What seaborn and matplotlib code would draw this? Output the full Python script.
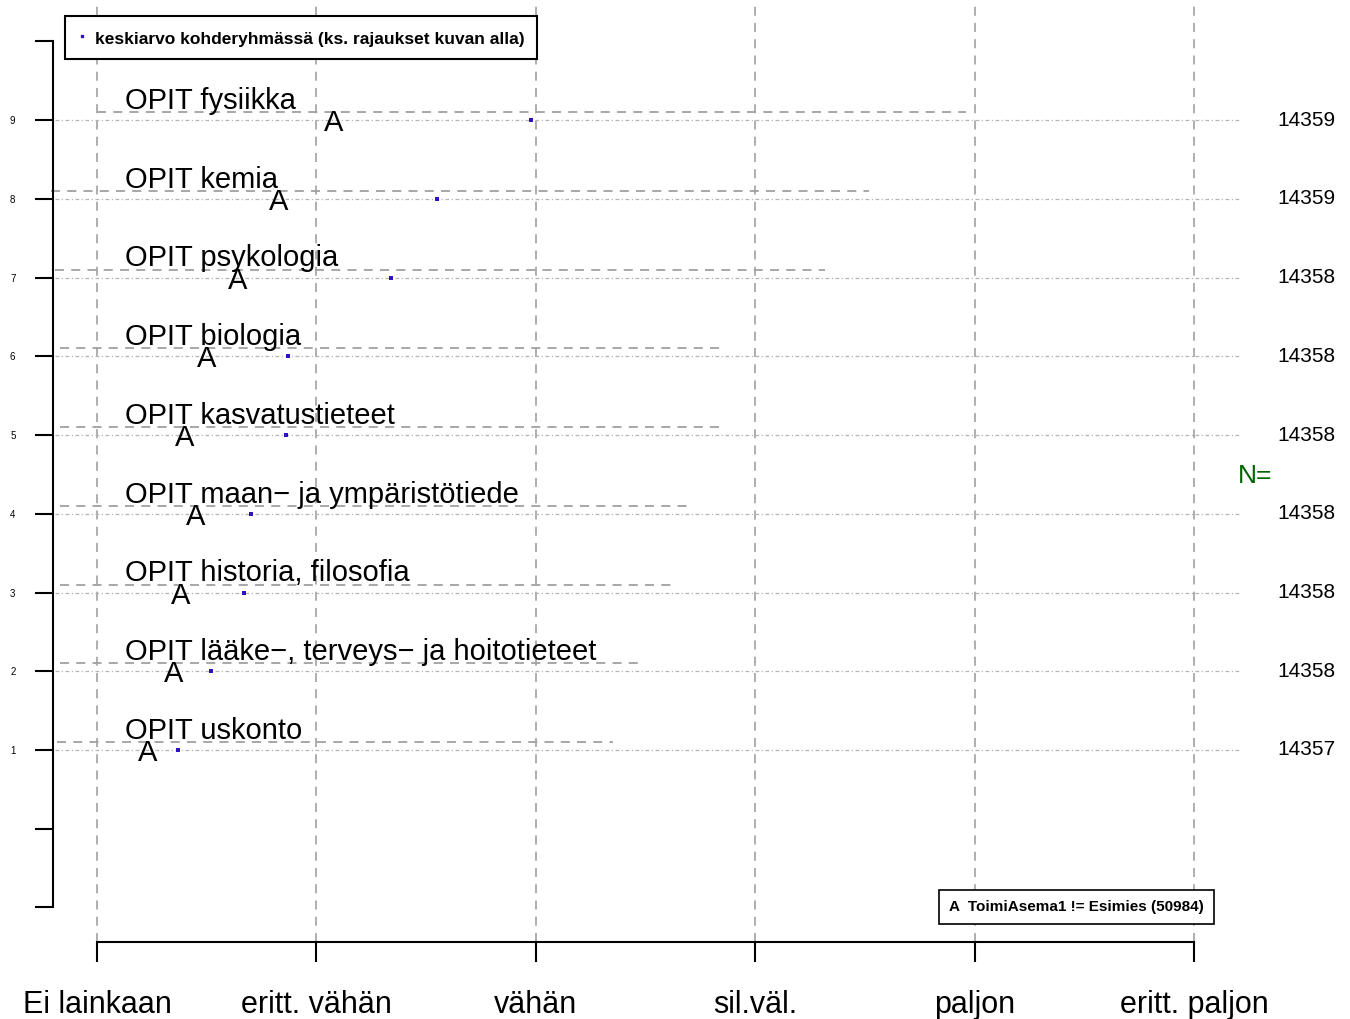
import numpy as np
import pandas as pd
import matplotlib
matplotlib.use('Agg')
import matplotlib.pyplot as plt
from matplotlib.lines import Line2D
import seaborn as sns

#%%
'''DATA'''
scale_labels = ['Ei lainkaan', 'eritt. vähän', 'vähän', 'sil.väl.', 'paljon', 'eritt. paljon']
items = ['OPIT fysiikka', 'OPIT kemia', 'OPIT psykologia', 'OPIT biologia',
         'OPIT kasvatustieteet', 'OPIT maan\u2212 ja ympäristötiede',
         'OPIT historia, filosofia', 'OPIT lääke\u2212, terveys\u2212 ja hoitotieteet',
         'OPIT uskonto']
rows = [9, 8, 7, 6, 5, 4, 3, 2, 1]
group_a = [2.08, 1.83, 1.64, 1.50, 1.40, 1.45, 1.38, 1.35, 1.23]      # 'A' letters
overall_mean = [2.98, 2.55, 2.34, 1.87, 1.86, 1.70, 1.67, 1.52, 1.37]  # small dots
spread_lo = [1.00, 0.79, 0.81, 0.83, 0.83, 0.83, 0.83, 0.83, 0.82]
spread_hi = [4.96, 4.52, 4.32, 3.85, 3.84, 3.69, 3.64, 3.49, 3.35]
n_counts = [14359, 14359, 14358, 14358, 14358, 14358, 14358, 14358, 14357]
legend_label = 'keskiarvo kohderyhmässä (ks. rajaukset kuvan alla)'
group_label = 'A  ToimiAsema1 != Esimies (50984)'

df = pd.DataFrame({'item': items, 'row': rows, 'a': group_a, 'mean': overall_mean,
                   'lo': spread_lo, 'hi': spread_hi, 'n': n_counts})

#%%
'''PLOT'''
sns.set_style('white')
plt.rcParams['font.family'] = ['Liberation Sans', 'DejaVu Sans']
plt.rcParams['text.color'] = 'black'
plt.rcParams['xtick.color'] = 'black'
plt.rcParams['ytick.color'] = 'black'

fig = plt.figure(figsize=(13.5, 10.19), dpi=100)
ax = fig.add_axes([0, 0, 1, 1])
ax.set_xlim(0.558, 6.711)
ax.set_ylim(-2.416, 10.524)

dotcol = '#3010c0'
ax_bottom = -1.438

#Vertical grid
ax.vlines(np.arange(1, 7), ax_bottom, 10.524, colors='#a8a8a8',
          linestyles=(0, (5, 4)), lw=1.3, zorder=1)

#Row guide lines
ax.hlines(df.row, 0.81, 6.21, colors='#b4b4b4', linestyles=(0, (3, 2, 1, 2)), lw=0.9, zorder=1)
ax.hlines(df.row + 0.1, df.lo, df.hi, colors='#a0a0a0', linestyles=(0, (5, 4)), lw=1.3, zorder=1)

#Means
sns.scatterplot(data=df, x='mean', y='row', marker='s', s=5, color=dotcol,
                linewidth=0, ax=ax, legend=False, zorder=3)

for _, r in df.iterrows():
    ax.text(r['a'], r['row'] - 0.04, 'A', fontsize=21, ha='center', va='center', zorder=4)
    ax.text(1.128, r['row'] + 0.14, r['item'], fontsize=21, ha='left', va='baseline', zorder=4)
    ax.text(6.511, r['row'], str(r['n']), fontsize=15, ha='center', va='center')

ax.text(6.278, 4.48, 'N=', fontsize=19, color='#006400', ha='center', va='center')

#Axes
for s in ['top', 'right']:
    ax.spines[s].set_visible(False)
ax.spines['left'].set_position(('data', 0.7995))
ax.spines['left'].set_bounds(-1, 10)
ax.spines['bottom'].set_position(('data', ax_bottom))
ax.spines['bottom'].set_bounds(1, 6)
for s in ['left', 'bottom']:
    ax.spines[s].set_linewidth(1.5)
    ax.spines[s].set_color('black')

ax.set_xticks(np.arange(1, 7), scale_labels)
ax.set_yticks(np.arange(-1, 11), [str(i) if 1 <= i <= 9 else '' for i in range(-1, 11)])
ax.tick_params(axis='x', direction='out', length=14.4, width=1.5, pad=20, labelsize=22, bottom=True)
ax.tick_params(axis='y', direction='out', length=13, width=1.5, pad=14, labelsize=7, left=True)
ax.set_xlabel('')
ax.set_ylabel('')

#Legends
h1 = [Line2D([], [], marker='s', ls='', color=dotcol, markersize=1.8)]
leg1 = ax.legend(h1, [legend_label], loc='upper left', bbox_to_anchor=(65 / 1350, 1 - 16 / 1019),
                 bbox_transform=fig.transFigure, borderaxespad=0, fancybox=False,
                 edgecolor='black', framealpha=1, borderpad=0.72, handlelength=0.5,
                 handleheight=1.25, handletextpad=0.5, prop={'size': 12.5, 'weight': 'bold'})
leg1.get_frame().set_linewidth(1.5)
ax.add_artist(leg1)

h2 = [Line2D([], [], ls='', marker='')]
leg2 = ax.legend(h2, [group_label], loc='lower right', bbox_to_anchor=(1214 / 1350, 1 - 924 / 1019),
                 bbox_transform=fig.transFigure, borderaxespad=0, fancybox=False,
                 edgecolor='black', framealpha=1, borderpad=0.65, handlelength=0,
                 handletextpad=0, prop={'size': 11, 'weight': 'bold'})
leg2.get_frame().set_linewidth(1.2)

fig.savefig('out.png', dpi=100)
